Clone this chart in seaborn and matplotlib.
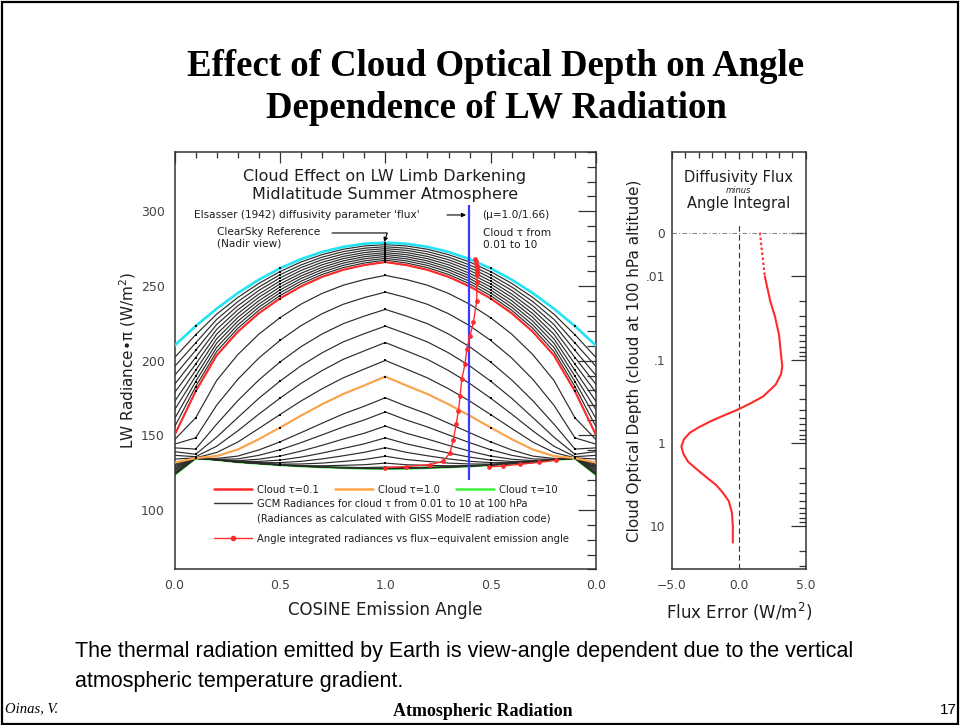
import matplotlib
matplotlib.use("Agg")
import matplotlib.pyplot as plt
import pandas as pd
import seaborn as sns
from matplotlib.lines import Line2D
from matplotlib.patches import Rectangle
from matplotlib.ticker import FixedLocator, FixedFormatter, MultipleLocator, NullFormatter

# ------------------------------------------------------------------ data
MU_NODES = [0.0, 0.1, 0.2, 0.3, 0.4, 0.5, 0.6, 0.7, 0.8, 0.9, 1.0]
CLEAR_SKY = [210.0, 223.1, 234.8, 245.2, 254.2, 261.8, 268.0, 272.8, 276.2, 278.3, 279.0]

CLOUD_TAU = [0.01, 0.02, 0.03, 0.04, 0.05, 0.06, 0.07, 0.08, 0.09, 0.1,
             0.174, 0.275, 0.39, 0.513, 0.65, 0.82, 1.0,
             1.29, 1.54, 1.86, 2.22, 2.65, 3.23, 4.1, 5.5, 7.5, 10.0]

# radiance (W/m2 * pi) of each cloud-tau curve at each cosine node
RAD_MU_00 = [202, 196, 190, 184, 178.5, 172.5, 167, 161, 155.5, 150, 147, 144, 141.5, 139,
             136.5, 134, 131.6, 130.6, 129.7, 128.8, 127.9, 127.0, 126.0, 125.0, 124.2, 123.7, 123.5]
RAD_MU_01 = [217.3, 211.8, 206.8, 202.0, 197.6, 193.4, 189.5, 185.9, 182.5, 179.4, 161.6, 148.2,
             140.7, 137.2, 135.6, 134.8, 134.6, 134.5, 134.5, 134.5, 134.5, 134.5, 134.5, 134.5,
             134.5, 134.5, 134.5]
RAD_MU_02 = [231.1, 227.6, 224.2, 220.9, 217.7, 214.6, 211.7, 208.8, 206.1, 203.5, 186.7, 170.1,
             157.4, 148.7, 142.6, 138.4, 136.0, 134.4, 133.8, 133.6, 133.5, 133.5, 133.5, 133.5,
             133.5, 133.5, 133.5]
RAD_MU_03 = [242.3, 239.5, 236.7, 234.0, 231.4, 228.9, 226.4, 223.9, 221.6, 219.3, 204.0, 187.4,
             173.1, 161.8, 152.9, 145.4, 140.4, 136.0, 134.1, 132.9, 132.4, 132.1, 132.0, 132.0,
             132.0, 132.0, 132.0]
RAD_MU_04 = [251.7, 249.3, 247.0, 244.6, 242.4, 240.1, 237.9, 235.8, 233.7, 231.7, 217.7, 201.7,
             187.0, 174.7, 164.1, 154.5, 147.3, 140.1, 136.5, 133.9, 132.4, 131.6, 131.2, 131.0,
             131.0, 131.0, 131.0]
RAD_MU_05 = [259.6, 257.5, 255.4, 253.3, 251.3, 249.3, 247.3, 245.4, 243.5, 241.6, 228.7, 213.5,
             199.0, 186.2, 174.8, 163.8, 155.1, 145.5, 140.2, 136.0, 133.3, 131.6, 130.6, 130.1,
             130.0, 130.0, 130.0]
RAD_MU_06 = [266.1, 264.1, 262.3, 260.4, 258.5, 256.7, 255.0, 253.2, 251.5, 249.7, 237.8, 223.4,
             209.3, 196.5, 184.7, 172.9, 163.1, 151.7, 145.0, 139.3, 135.3, 132.5, 130.7, 129.6,
             129.3, 129.2, 129.2]
RAD_MU_07 = [271.0, 269.3, 267.6, 265.9, 264.2, 262.5, 260.9, 259.3, 257.7, 256.1, 245.0, 231.4,
             217.8, 205.2, 193.3, 181.1, 170.7, 158.0, 150.2, 143.2, 138.0, 134.1, 131.3, 129.5,
             128.8, 128.6, 128.6]
RAD_MU_08 = [274.6, 273.0, 271.4, 269.8, 268.3, 266.8, 265.3, 263.8, 262.3, 260.8, 250.5, 237.7,
             224.7, 212.5, 200.8, 188.4, 177.6, 164.2, 155.5, 147.4, 141.1, 136.2, 132.4, 129.8,
             128.5, 128.1, 128.1]
RAD_MU_09 = [276.8, 275.3, 273.9, 272.4, 271.0, 269.6, 268.2, 266.8, 265.4, 264.0, 254.3, 242.2,
             229.8, 218.0, 206.5, 194.3, 183.3, 169.4, 160.2, 151.3, 144.2, 138.5, 133.7, 130.2,
             128.3, 127.8, 127.7]
RAD_MU_10 = [277.7, 276.3, 275.0, 273.7, 272.3, 271.1, 269.8, 268.5, 267.3, 266.0, 257.1, 245.9,
             234.3, 223.1, 212.1, 200.1, 189.3, 175.1, 165.6, 156.1, 148.2, 141.6, 135.9, 131.3,
             128.6, 127.7, 127.5]

HIGHLIGHT_TAU = [0.1, 1.0]
THICK_TAU = 10.0
MARKER_MU = [0.1, 0.5, 1.0]

DIFFUSIVITY_FACTOR = 1.66
BLUE_LINE_RAD = [120.0, 304.0]

# angle-integrated radiance vs flux-equivalent emission cosine
EQUIV_MU = [0.575, 0.572, 0.569, 0.567, 0.565, 0.564, 0.563, 0.563, 0.564, 0.566, 0.566, 0.582,
            0.598, 0.613, 0.622, 0.637, 0.645, 0.653, 0.664, 0.677, 0.693, 0.725, 0.788, 0.90,
            1.0, 0.51, 0.44, 0.36, 0.27, 0.19]
EQUIV_RAD = [268, 266.5, 265, 263.5, 262, 260.8, 259.6, 258.4, 257.2, 252.6, 240.2, 225.6,
             216.6, 207.7, 197.6, 187.5, 176.2, 166.2, 157.2, 147.1, 138.2, 132.5, 130.3, 129.0,
             128.3, 128.8, 129.4, 130.5, 131.8, 133.2]
EQUIV_SEGMENT = [0] * 25 + [1] * 5

# right panel: diffusivity flux minus angle integral
FLUX_TAU = [0.01, 0.02, 0.03, 0.05, 0.1, 0.12, 0.15, 0.2, 0.278, 0.33, 0.398, 0.47, 0.555,
            0.65, 0.753, 0.9, 1.1, 1.35, 1.68, 2.1, 2.61, 3.2, 3.95, 5.0, 6.86, 10.0, 15.7]
FLUX_ERR = [1.94, 2.35, 2.69, 3.0, 3.19, 3.25, 3.15, 2.75, 1.8, 0.95, -0.07, -1.15, -2.17,
            -3.0, -3.66, -4.1, -4.3, -4.15, -3.8, -3.1, -2.39, -1.7, -1.2, -0.75, -0.52,
            -0.45, -0.45]
ZERO_TAU_POS = 0.003
FLUX_ERR_AT_ZERO = 1.57

RAD_TICKS = [100, 150, 200, 250, 300]
COS_TICK_POS = [0.0, 0.5, 1.0, 1.5, 2.0]
COS_TICK_LABELS = ["0.0", "0.5", "1.0", "0.5", "0.0"]
TAU_TICKS = [ZERO_TAU_POS, 0.01, 0.1, 1, 10]
TAU_TICK_LABELS = ["0", ".01", ".1", "1", "10"]
FLUX_TICKS = [-5, 0, 5]
FLUX_TICK_LABELS = ["\u22125.0", "0.0", "5.0"]

# ------------------------------------------------------------------ styling
RED = "#ff2b2b"
ORANGE = "#ffa54a"
GREEN = "#3ff03f"
CYAN = "#22e3f2"
BLUE = "#3b3bff"
INK = "#1e1e1e"
HL_COLORS = [RED, ORANGE]
SMALL = 7.6
LEGEND_SIZE = 7.2

sns.set_style("white")
plt.rcParams["font.family"] = ["DejaVu Sans"]
plt.rcParams["axes.edgecolor"] = "#333333"
plt.rcParams["axes.linewidth"] = 1.1

# ------------------------------------------------------------------ tidy data
rad_cols = [RAD_MU_00, RAD_MU_01, RAD_MU_02, RAD_MU_03, RAD_MU_04, RAD_MU_05,
            RAD_MU_06, RAD_MU_07, RAD_MU_08, RAD_MU_09, RAD_MU_10]
recs = []
for i, tau in enumerate(CLOUD_TAU):
    for k, mu in enumerate(MU_NODES):
        r = rad_cols[k][i]
        recs.append((tau, mu, mu, r))
        if mu < 1.0:
            recs.append((tau, mu, 2.0 - mu, r))
curves = pd.DataFrame(recs, columns=["tau", "mu", "pos", "rad"])

crecs = []
for k, mu in enumerate(MU_NODES):
    crecs.append((mu, mu, CLEAR_SKY[k]))
    if mu < 1.0:
        crecs.append((mu, 2.0 - mu, CLEAR_SKY[k]))
clear = pd.DataFrame(crecs, columns=["mu", "pos", "rad"])

equiv = pd.DataFrame({"pos": [2.0 - m for m in EQUIV_MU], "rad": EQUIV_RAD, "seg": EQUIV_SEGMENT})
flux = pd.DataFrame({"tau": FLUX_TAU, "err": FLUX_ERR})

# ------------------------------------------------------------------ figure
fig = plt.figure(figsize=(9.6, 7.25), dpi=100)

def fx(px):
    return px / 960.0

def fy(py):
    return 1.0 - py / 725.0

ax = fig.add_axes([0.1818, 0.2145, 0.4391, 0.5763])

# thick-cloud (green) curve sits underneath the black family
sns.lineplot(data=curves[curves["tau"] == THICK_TAU], x="pos", y="rad", estimator=None,
             color=GREEN, lw=1.8, ax=ax, legend=False, zorder=1.8)
sns.lineplot(data=curves, x="pos", y="rad", units="tau", estimator=None, color="#2b2b2b",
             lw=0.85, ax=ax, legend=False, zorder=2)
for tau, col in zip(HIGHLIGHT_TAU, HL_COLORS):
    sns.lineplot(data=curves[curves["tau"] == tau], x="pos", y="rad", estimator=None,
                 color=col, lw=1.5, ax=ax, legend=False, zorder=3)
sns.lineplot(data=clear, x="pos", y="rad", estimator=None, color=CYAN, lw=1.9, ax=ax,
             legend=False, zorder=3)
marks = pd.concat([curves[["mu", "pos", "rad"]], clear])
marks = marks[marks["mu"].isin(MARKER_MU)]
sns.scatterplot(data=marks, x="pos", y="rad", s=3.2, color="black", marker="s", linewidth=0,
                ax=ax, legend=False, zorder=4)
ax.vlines(2.0 - 1.0 / DIFFUSIVITY_FACTOR, BLUE_LINE_RAD[0], BLUE_LINE_RAD[1], color=BLUE,
          lw=1.6, zorder=5)
sns.lineplot(data=equiv, x="pos", y="rad", units="seg", estimator=None, sort=False, color=RED,
             lw=1.0, marker="o", markersize=2.6, markeredgecolor=RED, ax=ax, legend=False,
             zorder=6)

ax.set_xlim(0, 2)
ax.set_ylim(60, 340)
ax.xaxis.set_major_locator(FixedLocator(COS_TICK_POS))
ax.xaxis.set_major_formatter(FixedFormatter(COS_TICK_LABELS))
ax.xaxis.set_minor_locator(MultipleLocator(0.1))
ax.yaxis.set_major_locator(FixedLocator(RAD_TICKS))
ax.yaxis.set_minor_locator(MultipleLocator(10))
ax.tick_params(which="both", direction="in", top=True, right=True, colors="#333333",
               labelcolor="#444444", labelsize=9, width=0.9)
ax.tick_params(axis="x", which="major", length=8, pad=7)
ax.tick_params(axis="x", which="minor", length=4)
ax.tick_params(axis="y", which="major", length=13, pad=7)
ax.tick_params(axis="y", which="minor", length=6.5)
ax.set_xlabel("COSINE Emission Angle", fontsize=12, color=INK, labelpad=6)
ax.set_ylabel("LW Radiance\u2022\u03c0 (W/m$^2$)", fontsize=11, color=INK, labelpad=2)

def axf(px, py):
    return ((px - 174.5) / 421.5, (569.5 - py) / 417.8)

T = ax.transAxes
ax.text(*axf(385, 177), "Cloud Effect on LW Limb Darkening", transform=T, ha="center",
        va="center", fontsize=11.5, color=INK)
ax.text(*axf(385, 195), "Midlatitude Summer Atmosphere", transform=T, ha="center",
        va="center", fontsize=11.5, color=INK)
ax.text(*axf(194, 215), "Elsasser (1942) diffusivity parameter 'flux'", transform=T,
        ha="left", va="center", fontsize=SMALL, color=INK)
ax.annotate("", xy=axf(466, 215), xytext=axf(447, 215), xycoords=T, textcoords=T,
            arrowprops=dict(arrowstyle="-|>", lw=0.8, color="black", mutation_scale=6,
                            shrinkA=0, shrinkB=0))
ax.text(*axf(482, 215), "(\u03bc=1.0/1.66)", transform=T, ha="left", va="center",
        fontsize=SMALL, color=INK)
ax.text(*axf(217, 232), "ClearSky Reference", transform=T, ha="left", va="center",
        fontsize=SMALL, color=INK)
ax.text(*axf(217, 244), "(Nadir view)", transform=T, ha="left", va="center", fontsize=SMALL,
        color=INK)
ax.annotate("", xy=axf(384, 242), xytext=axf(332, 233), xycoords=T, textcoords=T,
            arrowprops=dict(arrowstyle="-|>", lw=0.8, color="black", mutation_scale=6,
                            shrinkA=0, shrinkB=0, connectionstyle="angle,angleA=0,angleB=70,rad=0"))
ax.text(*axf(483, 233), "Cloud \u03c4 from", transform=T, ha="left", va="center",
        fontsize=SMALL, color=INK)
ax.text(*axf(483, 245), "0.01 to 10", transform=T, ha="left", va="center", fontsize=SMALL,
        color=INK)

leg_kw = dict(loc="upper left", frameon=False, fontsize=LEGEND_SIZE, handlelength=3.8,
              handletextpad=0.5, borderpad=0, borderaxespad=0)
leg1 = ax.legend(handles=[Line2D([], [], color=c, lw=1.8) for c in [RED, ORANGE, GREEN]],
                 labels=["Cloud \u03c4=0.1", "Cloud \u03c4=1.0", "Cloud \u03c4=10"],
                 ncol=3, bbox_to_anchor=axf(214, 485), columnspacing=1.6, **leg_kw)
ax.add_artist(leg1)
leg2 = ax.legend(handles=[Line2D([], [], color="#333333", lw=1.0),
                          Line2D([], [], color="none")],
                 labels=["GCM Radiances for cloud \u03c4 from 0.01 to 10 at 100 hPa",
                         "(Radiances as calculated with GISS ModelE radiation code)"],
                 bbox_to_anchor=axf(214, 499), labelspacing=0.45, **leg_kw)
ax.add_artist(leg2)
leg3 = ax.legend(handles=[Line2D([], [], color=RED, lw=1.0, marker="o", markersize=3)],
                 labels=["Angle integrated radiances vs flux\u2212equivalent emission angle"],
                 bbox_to_anchor=axf(214, 534), **leg_kw)
for lg in (leg1, leg2, leg3):
    for t in lg.get_texts():
        t.set_color(INK)

# ------------------------------------------------------------------ right panel
ax2 = fig.add_axes([0.7, 0.2145, 0.1393, 0.5763])
ax2.set_yscale("log")
sns.lineplot(data=flux, x="err", y="tau", sort=False, estimator=None, color=RED, lw=1.5,
             ax=ax2, legend=False, zorder=4)
sns.lineplot(x=[FLUX_ERR_AT_ZERO, FLUX_ERR[0]], y=[ZERO_TAU_POS, FLUX_TAU[0]], sort=False,
             estimator=None, color=RED, lw=1.5, linestyle=(0, (1.2, 1.2)), ax=ax2,
             legend=False, zorder=4)
ax2.axhline(ZERO_TAU_POS, color="#8a8a8a", lw=0.8, ls=(0, (4, 2, 1, 2)), zorder=1)
ax2.axvline(0, ymin=0, ymax=0.825, color="#333333", lw=0.8, ls=(0, (5, 3)), zorder=1)
ax2.set_xlim(-5, 5)
ax2.set_ylim(33.0, 3.2e-4)
ax2.xaxis.set_major_locator(FixedLocator(FLUX_TICKS))
ax2.xaxis.set_major_formatter(FixedFormatter(FLUX_TICK_LABELS))
ax2.xaxis.set_minor_locator(MultipleLocator(1))
ax2.yaxis.set_major_locator(FixedLocator(TAU_TICKS))
ax2.yaxis.set_major_formatter(FixedFormatter(TAU_TICK_LABELS))
ax2.yaxis.set_minor_locator(FixedLocator([m * 10.0 ** d for d in (-2, -1, 0, 1)
                                          for m in range(2, 10) if m * 10.0 ** d < 33]))
ax2.yaxis.set_minor_formatter(NullFormatter())
ax2.tick_params(which="both", direction="in", top=True, right=True, colors="#333333",
                labelcolor="#444444", labelsize=8.8, width=0.9)
ax2.tick_params(axis="y", which="major", length=11, pad=5)
ax2.tick_params(axis="y", which="minor", length=5)
ax2.tick_params(axis="x", which="major", length=5, pad=7)
ax2.tick_params(axis="x", which="minor", length=4)
ax2.set_xlabel("Flux Error (W/m$^2$)", fontsize=12, color=INK, labelpad=6)
ax2.set_ylabel("Cloud Optical Depth (cloud at 100 hPa altitude)", fontsize=11, color=INK,
               labelpad=3)
T2 = ax2.transAxes
ax2.text(0.5, 0.939, "Diffusivity Flux", transform=T2, ha="center", va="center",
         fontsize=10.5, color=INK)
ax2.text(0.5, 0.907, "minus", transform=T2, ha="center", va="center", fontsize=6,
         color=INK, style="italic")
ax2.text(0.5, 0.875, "Angle Integral", transform=T2, ha="center", va="center",
         fontsize=10.5, color=INK)

# ------------------------------------------------------------------ slide text
fig.text(fx(496), fy(76), "Effect of Cloud Optical Depth on Angle", ha="center",
         va="baseline", fontsize=26.5, fontweight="bold", family="Liberation Serif",
         color="black")
fig.text(fx(496), fy(118), "Dependence of LW Radiation", ha="center", va="baseline",
         fontsize=26.5, fontweight="bold", family="Liberation Serif", color="black")
fig.text(fx(75), fy(652), "The thermal radiation emitted by Earth is view-angle dependent due "
         "to the vertical", ha="left", va="center", fontsize=15.5, family="Liberation Sans",
         color="black")
fig.text(fx(75), fy(681), "atmospheric temperature gradient.", ha="left", va="center",
         fontsize=15.5, family="Liberation Sans", color="black")
fig.text(fx(5), fy(709), "Oinas, V.", ha="left", va="center", fontsize=10.5,
         family="Liberation Serif", style="italic", color="black")
fig.text(fx(483), fy(712), "Atmospheric Radiation", ha="center", va="center", fontsize=13,
         family="Liberation Serif", fontweight="bold", color="black")
fig.text(fx(957), fy(710), "17", ha="right", va="center", fontsize=11,
         family="Liberation Sans", color="black")
fig.patches.append(Rectangle((0.002, 0.002), 0.996, 0.995, transform=fig.transFigure,
                             fill=False, lw=1.6, ec="black"))

fig.savefig("out.png", dpi=100)
